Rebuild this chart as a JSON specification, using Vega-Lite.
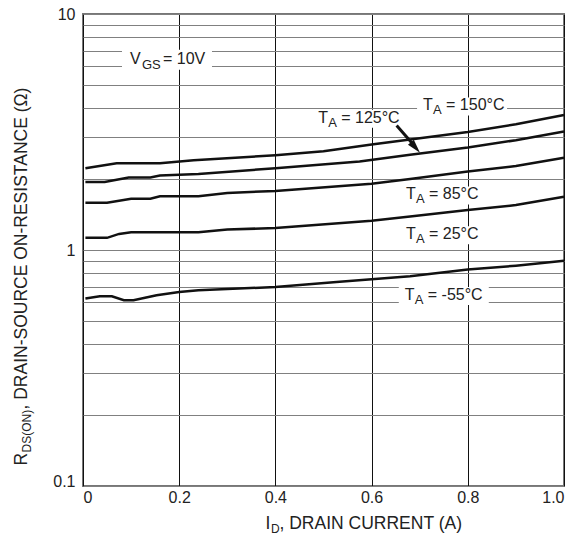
{
  "$schema": "https://vega.github.io/schema/vega-lite/v6.json",
  "width": 481,
  "height": 472,
  "autosize": {"type": "none"},
  "padding": {"left": 83, "top": 14, "right": 20, "bottom": 57},
  "background": "white",
  "config": {"view": {"stroke": "#777", "strokeWidth": 2}, "font": "Liberation Sans"},
  "resolve": {"axis": {"x": "independent", "y": "independent"}},
  "datasets": {
    "curves": [
      {"series": "150", "I": 0.005, "R": 2.22}, {"series": "150", "I": 0.07, "R": 2.33}, {"series": "150", "I": 0.16, "R": 2.33}, {"series": "150", "I": 0.23, "R": 2.40}, {"series": "150", "I": 0.4, "R": 2.52}, {"series": "150", "I": 0.5, "R": 2.62}, {"series": "150", "I": 0.6, "R": 2.80}, {"series": "150", "I": 0.68, "R": 2.94}, {"series": "150", "I": 0.8, "R": 3.16}, {"series": "150", "I": 0.9, "R": 3.41}, {"series": "150", "I": 1.0, "R": 3.73},
      {"series": "125", "I": 0.005, "R": 1.94}, {"series": "125", "I": 0.045, "R": 1.94}, {"series": "125", "I": 0.095, "R": 2.03}, {"series": "125", "I": 0.14, "R": 2.03}, {"series": "125", "I": 0.16, "R": 2.07}, {"series": "125", "I": 0.24, "R": 2.10}, {"series": "125", "I": 0.4, "R": 2.22}, {"series": "125", "I": 0.575, "R": 2.37}, {"series": "125", "I": 0.68, "R": 2.53}, {"series": "125", "I": 0.8, "R": 2.72}, {"series": "125", "I": 0.9, "R": 2.92}, {"series": "125", "I": 1.0, "R": 3.18},
      {"series": "85", "I": 0.005, "R": 1.585}, {"series": "85", "I": 0.05, "R": 1.585}, {"series": "85", "I": 0.1, "R": 1.65}, {"series": "85", "I": 0.14, "R": 1.65}, {"series": "85", "I": 0.16, "R": 1.69}, {"series": "85", "I": 0.24, "R": 1.69}, {"series": "85", "I": 0.3, "R": 1.745}, {"series": "85", "I": 0.4, "R": 1.78}, {"series": "85", "I": 0.6, "R": 1.91}, {"series": "85", "I": 0.68, "R": 2.0}, {"series": "85", "I": 0.8, "R": 2.15}, {"series": "85", "I": 0.9, "R": 2.27}, {"series": "85", "I": 1.0, "R": 2.46},
      {"series": "25", "I": 0.005, "R": 1.126}, {"series": "25", "I": 0.05, "R": 1.126}, {"series": "25", "I": 0.075, "R": 1.17}, {"series": "25", "I": 0.1, "R": 1.19}, {"series": "25", "I": 0.24, "R": 1.19}, {"series": "25", "I": 0.3, "R": 1.22}, {"series": "25", "I": 0.4, "R": 1.24}, {"series": "25", "I": 0.6, "R": 1.33}, {"series": "25", "I": 0.68, "R": 1.386}, {"series": "25", "I": 0.8, "R": 1.476}, {"series": "25", "I": 0.9, "R": 1.55}, {"series": "25", "I": 1.0, "R": 1.68},
      {"series": "-55", "I": 0.005, "R": 0.623}, {"series": "-55", "I": 0.035, "R": 0.637}, {"series": "-55", "I": 0.06, "R": 0.637}, {"series": "-55", "I": 0.085, "R": 0.613}, {"series": "-55", "I": 0.105, "R": 0.613}, {"series": "-55", "I": 0.153, "R": 0.643}, {"series": "-55", "I": 0.2, "R": 0.664}, {"series": "-55", "I": 0.24, "R": 0.675}, {"series": "-55", "I": 0.4, "R": 0.697}, {"series": "-55", "I": 0.527, "R": 0.731}, {"series": "-55", "I": 0.68, "R": 0.774}, {"series": "-55", "I": 0.8, "R": 0.826}, {"series": "-55", "I": 0.9, "R": 0.858}, {"series": "-55", "I": 1.0, "R": 0.90}
    ],
    "tlabels": [
      {"main": "T", "sub": "A", "rest": "= 150°C", "I": 0.707, "R": 4.10},
      {"main": "T", "sub": "A", "rest": "= 125°C", "I": 0.489, "R": 3.63},
      {"main": "T", "sub": "A", "rest": "= 85°C", "I": 0.6715, "R": 1.72},
      {"main": "T", "sub": "A", "rest": "= 25°C", "I": 0.6715, "R": 1.167},
      {"main": "T", "sub": "A", "rest": "= -55°C", "I": 0.669, "R": 0.645}
    ],
    "vlabel": [
      {"main": "V", "sub": "GS", "rest": "= 10V", "I": 0.0977, "R": 6.46}
    ],
    "arrow": [{"I": 0.652, "R": 3.37, "I2": 0.688, "R2": 2.78}],
    "head": [{"I": 0.7006, "R": 2.58}]
  },
  "layer": [
    {
      "data": {"name": "tlabels"},
      "mark": {"type": "point", "shape": "M-6,-8L84,-8L84,10L-6,10Z", "size": 4, "filled": true, "color": "white", "opacity": 1, "strokeWidth": 0},
      "encoding": {"x": {"field": "I", "type": "quantitative", "axis": null}, "y": {"field": "R", "type": "quantitative", "axis": null}}
    },
    {
      "data": {"name": "vlabel"},
      "mark": {"type": "point", "shape": "M-8,-9L82,-9L82,11L-8,11Z", "size": 4, "filled": true, "color": "white", "opacity": 1, "strokeWidth": 0},
      "encoding": {"x": {"field": "I", "type": "quantitative", "axis": null}, "y": {"field": "R", "type": "quantitative", "axis": null}}
    },
    {
      "data": {"name": "curves"},
      "mark": {"type": "line", "color": "#111", "strokeWidth": 2.5},
      "encoding": {
        "x": {
          "field": "I", "type": "quantitative",
          "scale": {"domain": [0, 1], "nice": false, "zero": false},
          "axis": {
            "orient": "bottom",
            "values": [0, 0.2, 0.4, 0.6, 0.8, 1],
            "labelExpr": "datum.value == 0 ? '0' : format(datum.value, '.1f')",
            "grid": true, "gridColor": "#111", "gridWidth": 1,
            "ticks": false, "tickSize": 0, "domain": false,
            "labelPadding": 3, "labelFlush": true, "labelOverlap": false,
            "labelFont": "Liberation Sans", "labelFontSize": 16, "labelColor": "#222",
            "title": "I",
            "titleFont": "Liberation Sans", "titleFontSize": 17.5, "titleFontWeight": "normal", "titleColor": "#222",
            "titleX": 182, "titleY": 42, "titleAlign": "left", "titleBaseline": "alphabetic", "titleAngle": 0
          }
        },
        "y": {
          "field": "R", "type": "quantitative",
          "scale": {"type": "log", "domain": [0.1, 10], "nice": false},
          "axis": {
            "orient": "left",
            "values": [0.1, 0.2, 0.3, 0.4, 0.5, 0.6, 0.7, 0.8, 0.9, 1, 2, 3, 4, 5, 6, 7, 8, 9, 10],
            "labelExpr": "datum.value == 0.1 ? '0.1' : datum.value == 1 ? '1' : datum.value == 10 ? '10' : ''",
            "grid": true, "gridColor": "#808080", "gridWidth": 1,
            "ticks": false, "tickSize": 0, "domain": false,
            "labelPadding": 8, "labelOverlap": false, "labelBound": false,
            "labelBaseline": {"condition": {"test": "datum.value < 0.15", "value": "alphabetic"}, "value": "middle"},
            "labelFont": "Liberation Sans", "labelFontSize": 16, "labelColor": "#222",
            "title": "R",
            "titleFont": "Liberation Sans", "titleFontSize": 17.5, "titleFontWeight": "normal", "titleColor": "#222",
            "titleX": -57, "titleY": 451, "titleAlign": "left", "titleBaseline": "alphabetic", "titleAngle": 270
          }
        },
        "detail": {"field": "series", "type": "nominal"}
      }
    },
    {
      "data": {"name": "arrow"},
      "mark": {"type": "rule", "color": "#111", "strokeWidth": 3},
      "encoding": {
        "x": {
          "field": "I", "type": "quantitative",
          "axis": {
            "orient": "bottom", "labels": false, "ticks": false, "domain": false, "grid": false,
            "title": "D",
            "titleFont": "Liberation Sans", "titleFontSize": 12, "titleFontWeight": "normal", "titleColor": "#222",
            "titleX": 187.5, "titleY": 46, "titleAlign": "left", "titleBaseline": "alphabetic", "titleAngle": 0
          }
        },
        "y": {
          "field": "R", "type": "quantitative",
          "axis": {
            "orient": "left", "labels": false, "ticks": false, "domain": false, "grid": false,
            "title": "DS(ON)",
            "titleFont": "Liberation Sans", "titleFontSize": 12, "titleFontWeight": "normal", "titleColor": "#222",
            "titleX": -53, "titleY": 438, "titleAlign": "left", "titleBaseline": "alphabetic", "titleAngle": 270
          }
        },
        "x2": {"field": "I2"},
        "y2": {"field": "R2"}
      }
    },
    {
      "data": {"name": "head"},
      "mark": {"type": "point", "shape": "M0,0L-1.1,-4L1.1,-4Z", "size": 49, "filled": true, "color": "#111", "opacity": 1, "angle": 319.5},
      "encoding": {
        "x": {
          "field": "I", "type": "quantitative",
          "axis": {
            "orient": "bottom", "labels": false, "ticks": false, "domain": false, "grid": false,
            "title": ", DRAIN CURRENT (A)",
            "titleFont": "Liberation Sans", "titleFontSize": 17.5, "titleFontWeight": "normal", "titleColor": "#222",
            "titleX": 196, "titleY": 42, "titleAlign": "left", "titleBaseline": "alphabetic", "titleAngle": 0
          }
        },
        "y": {
          "field": "R", "type": "quantitative",
          "axis": {
            "orient": "left", "labels": false, "ticks": false, "domain": false, "grid": false,
            "title": ", DRAIN-SOURCE ON-RESISTANCE (Ω)",
            "titleFont": "Liberation Sans", "titleFontSize": 17.5, "titleFontWeight": "normal", "titleColor": "#222",
            "titleX": -57, "titleY": 395, "titleAlign": "left", "titleBaseline": "alphabetic", "titleAngle": 270
          }
        }
      }
    },
    {
      "data": {"name": "tlabels"},
      "mark": {"type": "text", "align": "left", "baseline": "middle", "font": "Liberation Sans", "fontSize": 16, "color": "#222"},
      "encoding": {"x": {"field": "I", "type": "quantitative", "axis": null}, "y": {"field": "R", "type": "quantitative", "axis": null}, "text": {"field": "main"}}
    },
    {
      "data": {"name": "tlabels"},
      "mark": {"type": "text", "align": "left", "baseline": "middle", "font": "Liberation Sans", "fontSize": 13, "dx": 10, "dy": 5, "color": "#222"},
      "encoding": {"x": {"field": "I", "type": "quantitative", "axis": null}, "y": {"field": "R", "type": "quantitative", "axis": null}, "text": {"field": "sub"}}
    },
    {
      "data": {"name": "tlabels"},
      "mark": {"type": "text", "align": "left", "baseline": "middle", "font": "Liberation Sans", "fontSize": 16, "dx": 23, "color": "#222"},
      "encoding": {"x": {"field": "I", "type": "quantitative", "axis": null}, "y": {"field": "R", "type": "quantitative", "axis": null}, "text": {"field": "rest"}}
    },
    {
      "data": {"name": "vlabel"},
      "mark": {"type": "text", "align": "left", "baseline": "middle", "font": "Liberation Sans", "fontSize": 16, "color": "#222"},
      "encoding": {"x": {"field": "I", "type": "quantitative", "axis": null}, "y": {"field": "R", "type": "quantitative", "axis": null}, "text": {"field": "main"}}
    },
    {
      "data": {"name": "vlabel"},
      "mark": {"type": "text", "align": "left", "baseline": "middle", "font": "Liberation Sans", "fontSize": 13, "dx": 12, "dy": 6, "color": "#222"},
      "encoding": {"x": {"field": "I", "type": "quantitative", "axis": null}, "y": {"field": "R", "type": "quantitative", "axis": null}, "text": {"field": "sub"}}
    },
    {
      "data": {"name": "vlabel"},
      "mark": {"type": "text", "align": "left", "baseline": "middle", "font": "Liberation Sans", "fontSize": 16, "dx": 33, "color": "#222"},
      "encoding": {"x": {"field": "I", "type": "quantitative", "axis": null}, "y": {"field": "R", "type": "quantitative", "axis": null}, "text": {"field": "rest"}}
    }
  ]
}
